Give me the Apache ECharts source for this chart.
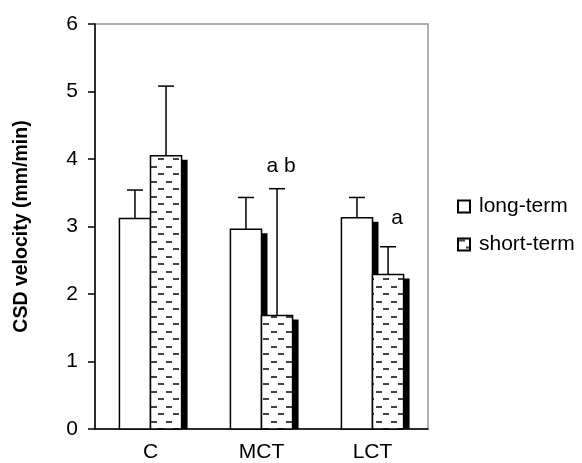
<!DOCTYPE html>
<html><head><meta charset="utf-8">
<script src="https://cdn.jsdelivr.net/npm/echarts@6/dist/echarts.min.js"></script>
<style>html,body{margin:0;padding:0;background:#fff}#c{width:582px;height:463px}</style>
</head><body><div id="c"></div>
<script>
const categories = ['C', 'MCT', 'LCT'];
const longTerm = [3.12, 2.96, 3.13];
const longTermErr = [0.42, 0.47, 0.30];
const shortTerm = [4.05, 1.68, 2.29];
const shortTermErr = [1.03, 1.88, 0.41];
const shortTermMarks = ['', 'a b', 'a'];
const yTicks = [0, 1, 2, 3, 4, 5, 6];

const FONT = "'Liberation Sans', Arial, sans-serif";
// pixel offsets of the significance marks relative to the error-bar cap (style only)
const markOffsets = [[0, -12], [4, -12], [9, -18]];

function makePattern() {
  const c = document.createElement('canvas');
  c.width = 15; c.height = 15;
  const g = c.getContext('2d');
  g.fillStyle = '#fff'; g.fillRect(0, 0, 15, 15);
  g.fillStyle = '#444';
  g.fillRect(1, 1, 6, 2);
  g.fillRect(8, 8, 6, 2);
  return c;
}
const pat = { image: makePattern(), repeat: 'repeat' };

function renderer(side, fillStyle, marks) {
  return function (params, api) {
    const i = api.value(0);
    const v = api.value(1);
    const e = api.value(2);
    const base = api.coord([i, 0]);
    const top = api.coord([i, v]);
    const cap = api.coord([i, v + e]);
    const band = api.size([1, 0])[0];
    const w = band * 0.28;
    const x = side < 0 ? base[0] - w : base[0];
    const h = base[1] - top[1];
    const cx = x + w / 2;
    const children = [
      { type: 'rect', shape: { x: x + 6, y: top[1] + 4, width: w, height: h - 4 }, style: { fill: '#000' } },
      { type: 'rect', shape: { x: x, y: top[1], width: w, height: h }, style: { fill: fillStyle, stroke: '#000', lineWidth: 1.5 } },
      { type: 'line', shape: { x1: cx, y1: top[1], x2: cx, y2: cap[1] }, style: { stroke: '#000', lineWidth: 1.5 } },
      { type: 'line', shape: { x1: cx - 8, y1: cap[1], x2: cx + 8, y2: cap[1] }, style: { stroke: '#000', lineWidth: 1.5 } }
    ];
    const m = marks && marks[i];
    if (m) {
      const off = markOffsets[i];
      children.push({ type: 'text', style: { text: m, x: cx + off[0], y: cap[1] + off[1], align: 'center', verticalAlign: 'bottom', fontSize: 21, fontFamily: FONT, fill: '#000' } });
    }
    return { type: 'group', children: children };
  };
}

const chart = echarts.init(document.getElementById('c'), null, { renderer: 'canvas' });
chart.setOption({
  animation: false,
  backgroundColor: '#fff',
  grid: { left: 95, right: 154, top: 24, bottom: 33, show: true, borderColor: '#999', borderWidth: 1.5 },
  legend: {
    orient: 'vertical', left: 452, top: 191, itemWidth: 12, itemHeight: 12, itemGap: 17,
    textStyle: { fontSize: 21, fontFamily: FONT, color: '#000', padding: [0, 0, 0, 4] },
    data: [
      { name: 'long-term', icon: 'rect', itemStyle: { color: '#fff', borderColor: '#000', borderWidth: 2 } },
      { name: 'short-term', icon: 'rect', itemStyle: { color: pat, borderColor: '#000', borderWidth: 2 } }
    ]
  },
  xAxis: {
    type: 'category', data: categories,
    axisLine: { lineStyle: { color: '#000', width: 1.5 } },
    axisTick: { length: 6, lineStyle: { color: '#000', width: 1.5 } },
    axisLabel: { fontSize: 21, margin: 13, color: '#000', fontFamily: FONT }
  },
  yAxis: {
    type: 'value', min: yTicks[0], max: yTicks[yTicks.length - 1], interval: 1,
    name: 'CSD velocity (mm/min)', nameLocation: 'middle', nameGap: 63,
    nameTextStyle: { fontSize: 19.5, fontWeight: 'bold', fontFamily: FONT, color: '#000' },
    axisLine: { show: true, lineStyle: { color: '#000', width: 1.5 } },
    axisTick: { show: true, length: 7, lineStyle: { color: '#000', width: 1.5 } },
    splitLine: { show: false },
    axisLabel: { fontSize: 21, margin: 17, color: '#000', fontFamily: FONT }
  },
  series: [
    {
      name: 'long-term', type: 'custom', encode: { x: 0, y: 1 },
      itemStyle: { color: '#fff' },
      renderItem: renderer(-1, '#fff', null),
      data: categories.map((c, i) => [i, longTerm[i], longTermErr[i]])
    },
    {
      name: 'short-term', type: 'custom', encode: { x: 0, y: 1 },
      itemStyle: { color: '#888' },
      renderItem: renderer(1, pat, shortTermMarks),
      data: categories.map((c, i) => [i, shortTerm[i], shortTermErr[i]])
    }
  ]
});
</script>
</body></html>
